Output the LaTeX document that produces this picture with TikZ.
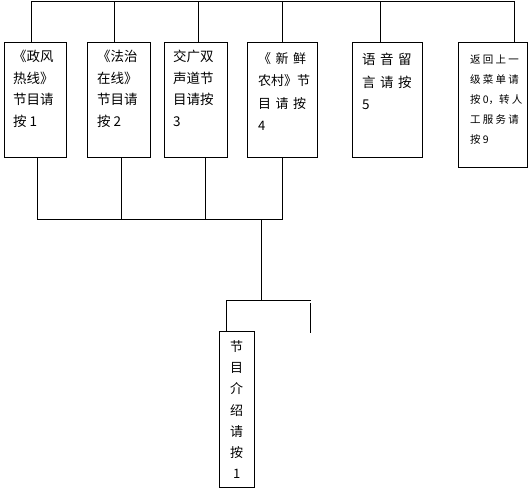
\documentclass[tikz,border=0pt]{standalone}
\usepackage{fontspec}
\newfontfamily\cjk{Noto Sans CJK SC}
\def\g{\hskip4.5pt}
\def\h{\hskip2.2pt}
\begin{document}
\begin{tikzpicture}[x=1pt,y=-1pt,
  box/.style={draw, line width=0.9pt, inner sep=0pt, anchor=north west},
  txt/.style={anchor=north west, inner sep=0pt, align=left, font=\cjk\fontsize{13.5}{21.5}\selectfont},
  txtw/.style={txt, font=\cjk\fontsize{13}{22.5}\selectfont},
  txts/.style={txt, font=\cjk\fontsize{10.5}{20}\selectfont},
  txtv/.style={anchor=north, inner sep=0pt, align=center, font=\cjk\fontsize{13}{21.3}\selectfont},
  conn/.style={line width=0.9pt}]
\useasboundingbox (0,0) rectangle (531,490);
% boxes
\node[box, minimum width=62, minimum height=115] (b1) at (4,42) {};
\node[box, minimum width=63, minimum height=115] (b2) at (87,42) {};
\node[box, minimum width=63, minimum height=115] (b3) at (164,42) {};
\node[box, minimum width=70, minimum height=115] (b4) at (247,42) {};
\node[box, minimum width=70, minimum height=115] (b5) at (352,42) {};
\node[box, minimum width=69, minimum height=125] (b6) at (458,42) {};
\node[box, minimum width=35, minimum height=156] (b7) at (219,331) {};
% texts
\node[txt] (l1) at (13,50) {《政风\\热线》\\节目请\\按 1};
\node[txt] (l2) at (97,50) {《法治\\在线》\\节目请\\按 2};
\node[txt] (l3) at (173,50) {交广双\\声道节\\目请按\\3};
\node[txtw] (l4) at (258,52) {《\g 新\g 鲜\\农村》节\\目\g 请\g 按\\4};
\node[txt, font=\cjk\fontsize{13.5}{22.5}\selectfont] (l5) at (362,53) {语\g 音\g 留\\言\g 请\g 按\\5};
\node[txts] (l6) at (470,55) {返\h 回\h 上\h 一\\级\h 菜\h 单\h 请\\按\h 0，转\h 人\\工\h 服\h 务\h 请\\按\h 9};
\node[txtv] (l7) at (236.7,340) {节\\目\\介\\绍\\请\\按\\1};
% top bus
\coordinate (t1) at (31,1);
\coordinate (t2) at (114.7,1);
\coordinate (t3) at (198.7,1);
\coordinate (t4) at (282,1);
\coordinate (t5) at (380.3,1);
\coordinate (t6) at (514,1);
\draw[conn] (t1) -- (t6);
\draw[conn] (t1) -- (t1 |- b1.north);
\draw[conn] (t2) -- (t2 |- b2.north);
\draw[conn] (t3) -- (t3 |- b3.north);
\draw[conn] (t4) -- (t4 |- b4.north);
\draw[conn] (t5) -- (t5 |- b5.north);
\draw[conn] (t6) -- (t6 |- b6.north);
% bottom bus
\coordinate (u1) at (37.3,219);
\coordinate (u2) at (121.3,219);
\coordinate (u3) at (205.3,219);
\coordinate (u4) at (282.3,219);
\draw[conn] (u1 |- b1.south) -- (u1) -- (u4) -- (u4 |- b4.south);
\draw[conn] (u2 |- b2.south) -- (u2);
\draw[conn] (u3 |- b3.south) -- (u3);
% down to sub level
\coordinate (j) at (261.3,219);
\coordinate (k) at (261.3,300.3);
\coordinate (l) at (226.3,300.3);
\coordinate (r) at (310.7,300.3);
\coordinate (s1) at (310.7,303);
\coordinate (s2) at (310.7,333);
\draw[conn] (j) -- (k);
\draw[conn] (l) -- (r);
\draw[conn] (l) -- (l |- b7.north);
\draw[conn] (s1) -- (s2);
\end{tikzpicture}
\end{document}
